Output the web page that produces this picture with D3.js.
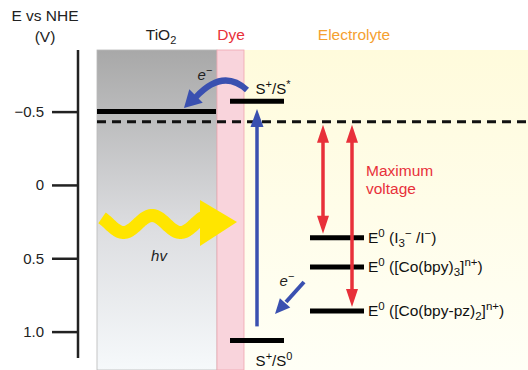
<!DOCTYPE html>
<html><head><meta charset="utf-8">
<script src="https://cdn.jsdelivr.net/npm/d3@7"></script>
<style>body{margin:0;background:#fff}svg{display:block}text{font-family:"Liberation Sans",Arial,sans-serif}</style>
</head><body><svg id="c" width="528" height="370"></svg>
<script>
// ---- data ----
const tickValues = [-0.5, 0, 0.5, 1.0];
const tickLabels = ["\u22120.5", "0", "0.5", "1.0"];
const regions = ["TiO2", "Dye", "Electrolyte"];
const tio2CB = -0.50;          // TiO2 conduction band
const dyeExcited = -0.57;      // S+/S*
const dyeGround = 1.06;        // S+/S0
const fermiLevel = -0.43;      // dashed line
const redoxNames = ["I3-/I-", "Co(bpy)3", "Co(bpy-pz)2"];
const redoxValues = [0.36, 0.56, 0.86];

const svg = d3.select("#c");
const y = d3.scaleLinear().domain([-0.92, 1.18]).range([50, 358]);
const x = d3.scaleLinear().domain([0, 528]).range([0, 528]);
const defs = svg.append("defs");

const g1 = defs.append("linearGradient").attr("id","gT").attr("x1",0).attr("y1",0).attr("x2",0).attr("y2",1);
g1.append("stop").attr("offset","0%").attr("stop-color","#a8a8a8");
g1.append("stop").attr("offset","55%").attr("stop-color","#dcdde0");
g1.append("stop").attr("offset","100%").attr("stop-color","#f6f9fb");
const g2 = defs.append("linearGradient").attr("id","gE").attr("x1",0).attr("y1",0).attr("x2",0).attr("y2",1);
g2.append("stop").attr("offset","0%").attr("stop-color","#fffbdc");
g2.append("stop").attr("offset","100%").attr("stop-color","#fffff6");

// regions
svg.append("rect").attr("x",x(97)).attr("y",50).attr("width",x(217)-x(97)).attr("height",320).attr("fill","url(#gT)").attr("stroke","#b8b8b8").attr("stroke-width",0.8);
svg.append("rect").attr("x",x(244)).attr("y",50).attr("width",x(528)-x(244)).attr("height",320).attr("fill","url(#gE)");
svg.append("rect").attr("x",x(217)).attr("y",50).attr("width",x(244)-x(217)).attr("height",320).attr("fill","#f9d4dc").attr("stroke","#f0a6b0").attr("stroke-width",0.8);

// region labels
const rl = svg.append("g").attr("font-size",15.5);
const t0 = rl.append("text").attr("x",161).attr("y",40).attr("text-anchor","middle").attr("fill","#222");
t0.append("tspan").text("TiO");
t0.append("tspan").attr("font-size",11).attr("dy",4).text("2");
rl.append("text").attr("x",231).attr("y",40).attr("text-anchor","middle").attr("fill","#e8303a").text(regions[1]);
rl.append("text").attr("x",354).attr("y",40).attr("text-anchor","middle").attr("fill","#f5a030").text(regions[2]);

// axis
const axis = d3.axisLeft(y).tickValues(tickValues).tickFormat((d,i)=>tickLabels[i]).tickSize(26).tickPadding(8);
const ag = svg.append("g").attr("transform","translate(78,0)").call(axis);
ag.select(".domain").attr("d","M0,50V358").attr("stroke","#222").attr("stroke-width",2.5);
ag.selectAll(".tick line").attr("stroke","#222").attr("stroke-width",2.5);
ag.selectAll(".tick text").attr("font-size",15).attr("fill","#222").attr("font-family","Liberation Sans, Arial, sans-serif");
svg.append("text").attr("x",45).attr("y",21).attr("text-anchor","middle").attr("font-size",15.5).attr("fill","#222").text("E vs NHE");
svg.append("text").attr("x",45).attr("y",42).attr("text-anchor","middle").attr("font-size",15.5).attr("fill","#222").text("(V)");

// hv wavy arrow
const wave = [];
for (let px = 102; px <= 203; px += 1) wave.push([px, 224 - 8.5*Math.cos(2*Math.PI*(px-152)/57)]);
svg.append("path").attr("d", d3.line()(wave)).attr("fill","none").attr("stroke","#ffe500").attr("stroke-width",13);
svg.append("path").attr("d","M200,200L237,222L200,246Z").attr("fill","#ffe500");
svg.append("text").attr("x",159).attr("y",261).attr("text-anchor","middle").attr("font-size",15).attr("font-style","italic").attr("fill","#222").text("hv");

// dashed line
svg.append("line").attr("x1",97).attr("x2",528).attr("y1",y(fermiLevel)).attr("y2",y(fermiLevel)).attr("stroke","#111").attr("stroke-width",3).attr("stroke-dasharray","9,6");

// levels
const lv = svg.append("g").attr("stroke","#000").attr("stroke-width",5);
lv.append("line").attr("x1",97).attr("x2",216).attr("y1",y(tio2CB)).attr("y2",y(tio2CB));
lv.append("line").attr("x1",230).attr("x2",284).attr("y1",y(dyeExcited)).attr("y2",y(dyeExcited));
lv.append("line").attr("x1",230).attr("x2",284).attr("y1",y(dyeGround)).attr("y2",y(dyeGround));
lv.selectAll("line.r").data(redoxValues).join("line").attr("class","r").attr("x1",310).attr("x2",364).attr("y1",d=>y(d)).attr("y2",d=>y(d));

// arrows helper
function arrowHead(x1,y1,x2,y2,len,wid,color){
  const a = Math.atan2(y2-y1,x2-x1), c=Math.cos(a), s=Math.sin(a);
  const bx = x2 - len*c, by = y2 - len*s;
  svg.append("path").attr("d",`M${x2},${y2}L${bx - wid/2*s},${by + wid/2*c}L${bx + wid/2*s},${by - wid/2*c}Z`).attr("fill",color);
}
const blue = "#3a50b0", red = "#e8303a";
// vertical excitation arrow
svg.append("line").attr("x1",257).attr("x2",257).attr("y1",y(dyeGround)-14).attr("y2",124).attr("stroke",blue).attr("stroke-width",3.5);
arrowHead(257,130,257,109,18,13,blue);
// curved injection arrow
svg.append("path").attr("d","M247,90Q223,68 196,97").attr("fill","none").attr("stroke",blue).attr("stroke-width",6);
arrowHead(204,88,184,108,17,19,blue);
function eLabel(cx, by){
  const t = svg.append("text").attr("x",cx).attr("y",by).attr("text-anchor","middle").attr("font-size",15).attr("fill","#222");
  t.append("tspan").attr("font-style","italic").text("e");
  t.append("tspan").attr("dy",-6).attr("font-size",11).text("\u2212");
}
eLabel(205, 80);
// regeneration arrow
svg.append("line").attr("x1",304).attr("y1",282).attr("x2",286).attr("y2",302).attr("stroke",blue).attr("stroke-width",4);
arrowHead(304,282,275,314,15,14,blue);
eLabel(287, 286);

// red double arrows
[[323, redoxValues[0]], [352, redoxValues[2]]].forEach(([ax, v]) => {
  const top = y(fermiLevel)+3, bot = y(v)-4;
  svg.append("line").attr("x1",ax).attr("x2",ax).attr("y1",top+14).attr("y2",bot-14).attr("stroke",red).attr("stroke-width",3.5);
  arrowHead(ax,top+20,ax,top,18,12,red);
  arrowHead(ax,bot-20,ax,bot,18,12,red);
});
svg.append("text").attr("x",366).attr("y",176).attr("font-size",15.5).attr("fill",red).text("Maximum");
svg.append("text").attr("x",366).attr("y",194).attr("font-size",15.5).attr("fill",red).text("voltage");

// dye labels
function sLabel(cx, by, sup2){
  const t = svg.append("text").attr("x",cx).attr("y",by).attr("text-anchor","middle").attr("font-size",15).attr("fill","#111");
  t.append("tspan").text("S");
  t.append("tspan").attr("font-size",11).attr("dy",-6).text("+");
  t.append("tspan").attr("dy",6).text("/S");
  t.append("tspan").attr("font-size",11).attr("dy",-6).text(sup2);
}
sLabel(273, 94, "*");
sLabel(274, 366, "0");

// redox labels
const rg = svg.append("g").attr("font-size",15.5).attr("fill","#111");
function redoxLabel(v, parts){
  const t = rg.append("text").attr("x",368).attr("y",y(v)+5);
  let cur = 0;
  parts.forEach(([txt, off, small]) => {
    t.append("tspan").attr("dy", off - cur).attr("font-size", small ? 11.5 : 15.5).text(txt);
    cur = off;
  });
}
redoxLabel(redoxValues[0], [["E",0],["0",-6,1],[" (I",0],["3",4,1],["\u2212",-6,1],[" /I",0],["\u2212",-6,1],[")",0]]);
redoxLabel(redoxValues[1], [["E",0],["0",-6,1],[" ([Co(bpy)",0],["3",4,1],["]",0],["n+",-6,1],[")",0]]);
redoxLabel(redoxValues[2], [["E",0],["0",-6,1],[" ([Co(bpy-pz)",0],["2",4,1],["]",0],["n+",-6,1],[")",0]]);
</script></body></html>
